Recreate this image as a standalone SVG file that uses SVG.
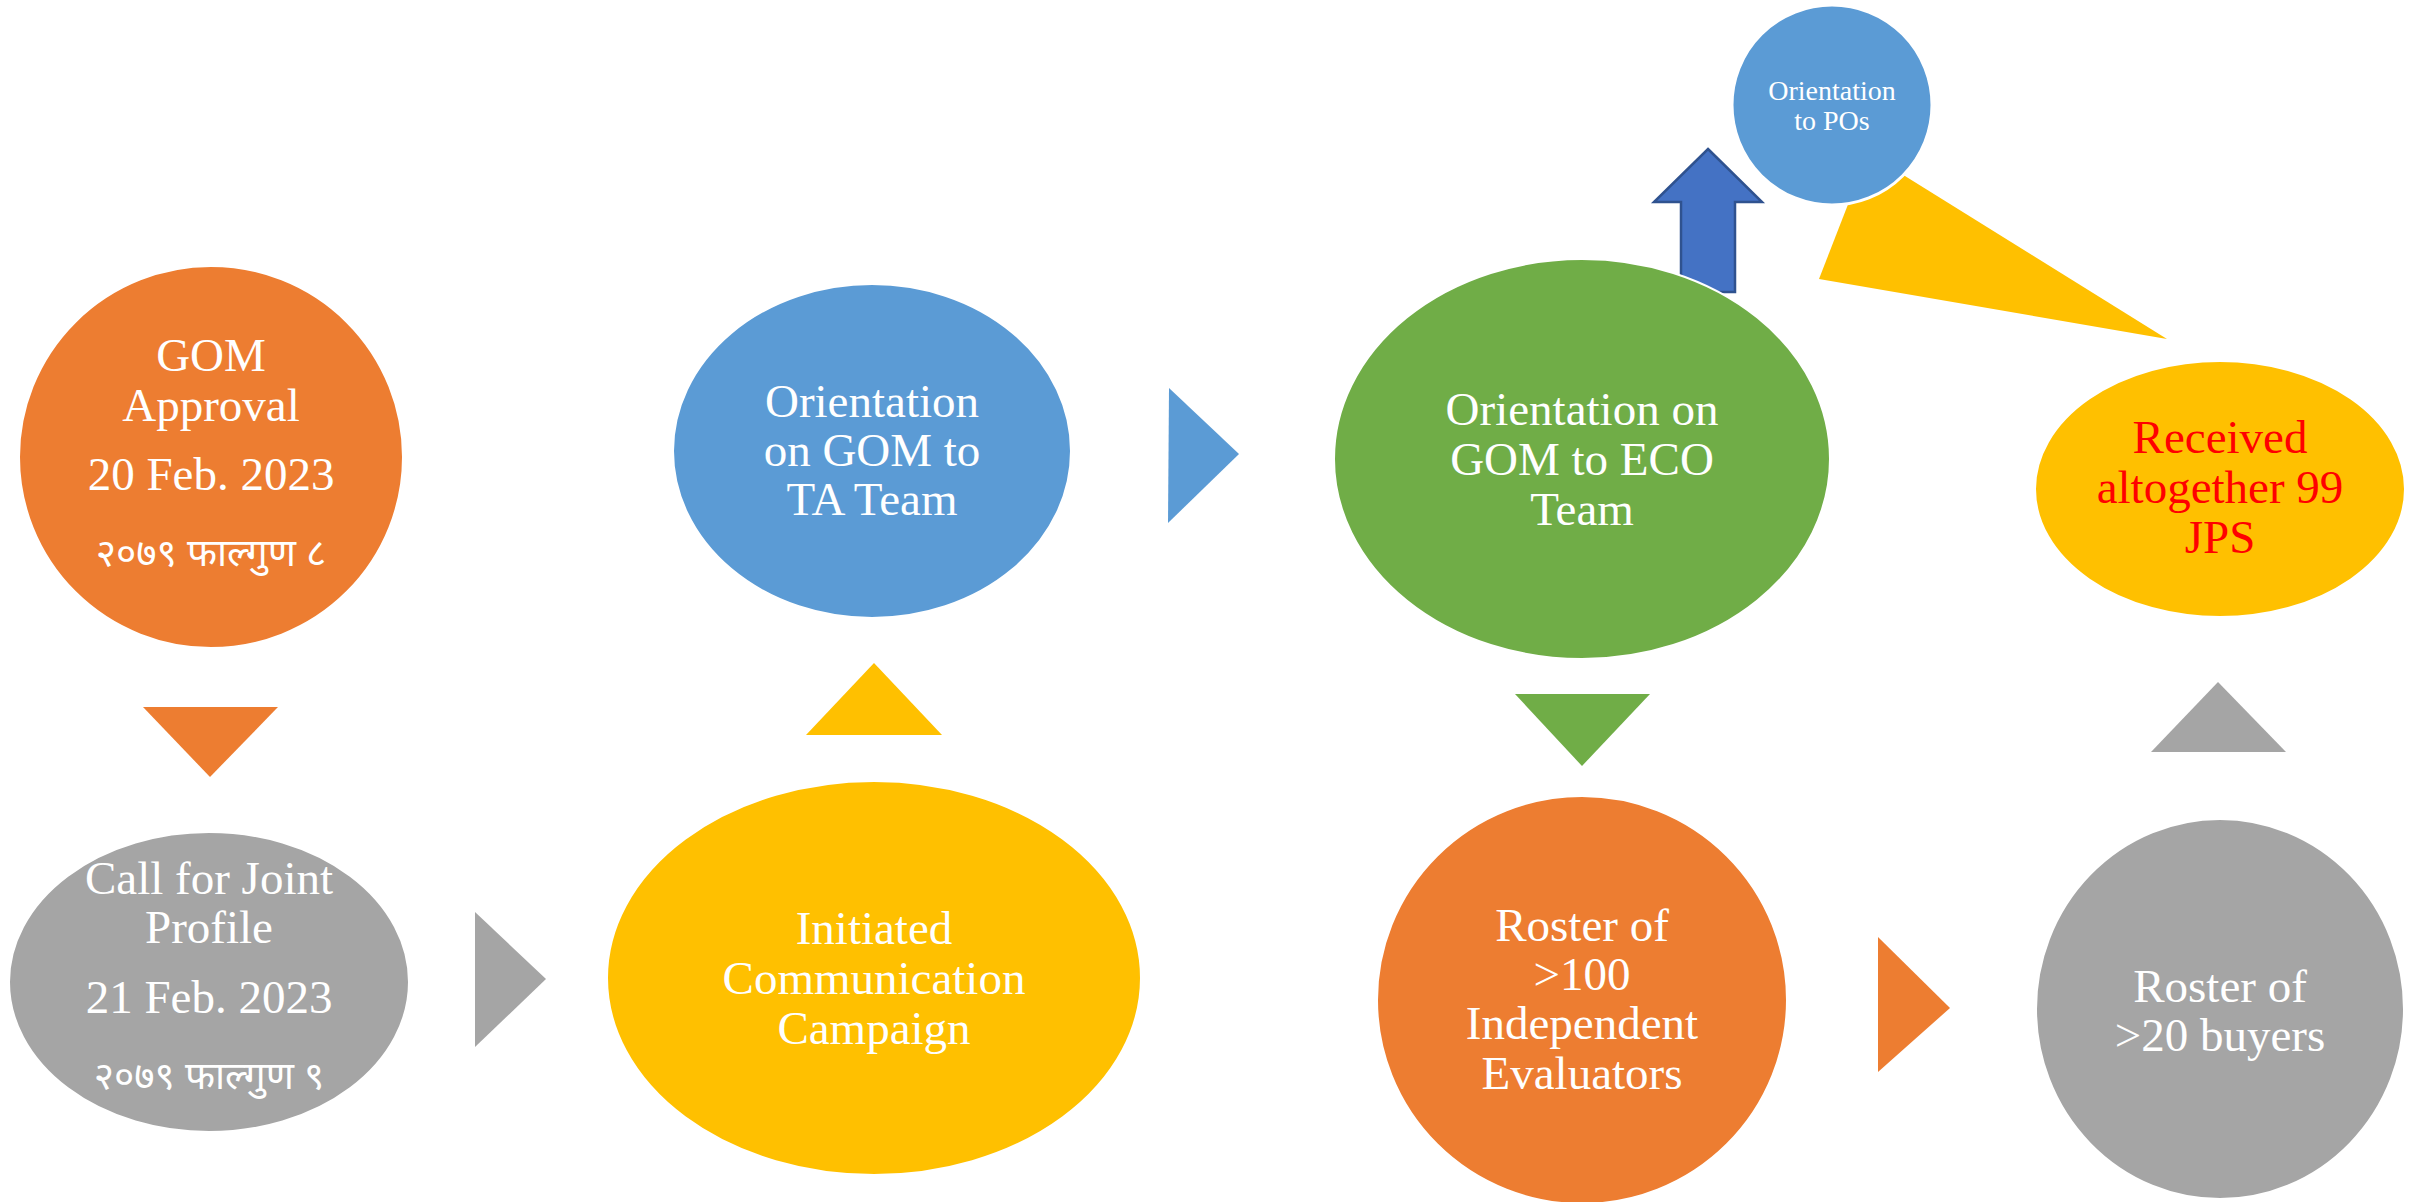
<svg xmlns="http://www.w3.org/2000/svg" width="2432" height="1202" viewBox="0 0 2432 1202">
<style>
.t{font-family:"Liberation Serif","Times New Roman",serif;font-size:47px;fill:#FFFFFF;text-anchor:middle}
.dv{font-family:"Noto Sans Devanagari","Noto Serif Devanagari","Lohit Devanagari","FreeSerif","Liberation Serif",serif;font-size:39px;fill:#FFFFFF;text-anchor:middle}
.sm{font-size:28px}
.red{fill:#FF0000}
.n{stroke:#FFFFFF;stroke-width:2}
.or{fill:#ED7D31}.gr{fill:#A5A5A5}.ye{fill:#FFC000}.bl{fill:#5B9BD5}.gn{fill:#70AD47}
</style>
<rect width="2432" height="1202" fill="#FFFFFF"/>
<g id="connectors">
<polygon class="or" points="143,707 278,707 210,777"/>
<polygon class="gr" points="475,912 546,979 475,1047"/>
<polygon class="ye" points="806,735 942,735 874,663"/>
<polygon class="bl" points="1169,388 1239,454 1168,523"/>
<polygon class="gn" points="1515,694 1650,694 1582,766"/>
<polygon class="or" points="1878,937 1950,1008 1878,1072"/>
<polygon class="gr" points="2151,752 2218,682 2286,752"/>
<polygon class="ye" points="1819,279 1868,153 2167,339"/>
<polygon points="1708,149 1762,202 1735,202 1735,292 1681,292 1681,202 1654,202" fill="#4472C4" stroke="#2F528F" stroke-width="2.5"/>
</g>
<g id="node-gom">
<ellipse class="n or" cx="211" cy="457" rx="192" ry="191"/>
<text class="t" x="211" y="371">GOM</text>
<text class="t" x="211" y="421">Approval</text>
<text class="t" x="211" y="490">20 Feb. 2023</text>
<text class="dv" x="211" y="566">२०७९ फाल्गुण ८</text>
</g>
<g id="node-call">
<ellipse class="n gr" cx="209" cy="982" rx="200" ry="150"/>
<text class="t" x="209" y="894">Call for Joint</text>
<text class="t" x="209" y="943">Profile</text>
<text class="t" x="209" y="1013">21 Feb. 2023</text>
<text class="dv" x="209" y="1089">२०७९ फाल्गुण ९</text>
</g>
<g id="node-campaign">
<ellipse class="n ye" cx="874" cy="978" rx="267" ry="197"/>
<text class="t" x="874" y="944">Initiated</text>
<text class="t" x="874" y="994">Communication</text>
<text class="t" x="874" y="1044">Campaign</text>
</g>
<g id="node-ta">
<ellipse class="n bl" cx="872" cy="451" rx="199" ry="167"/>
<text class="t" x="872" y="417">Orientation</text>
<text class="t" x="872" y="466">on GOM to</text>
<text class="t" x="872" y="515">TA Team</text>
</g>
<g id="node-eco">
<ellipse class="n gn" cx="1582" cy="459" rx="248" ry="200"/>
<text class="t" x="1582" y="425">Orientation on</text>
<text class="t" x="1582" y="475">GOM to ECO</text>
<text class="t" x="1582" y="525">Team</text>
</g>
<g id="node-pos">
<circle cx="1832" cy="105" r="100" fill="#5B9BD5" stroke="#FFFFFF" stroke-width="3"/>
<text class="t sm" x="1832" y="100">Orientation</text>
<text class="t sm" x="1832" y="130">to POs</text>
</g>
<g id="node-evaluators">
<ellipse class="n or" cx="1582" cy="1000" rx="205" ry="204"/>
<text class="t" x="1582" y="941">Roster of</text>
<text class="t" x="1582" y="990">&gt;100</text>
<text class="t" x="1582" y="1039">Independent</text>
<text class="t" x="1582" y="1089">Evaluators</text>
</g>
<g id="node-buyers">
<ellipse class="n gr" cx="2220" cy="1009" rx="184" ry="190"/>
<text class="t" x="2220" y="1002">Roster of</text>
<text class="t" x="2220" y="1051">&gt;20 buyers</text>
</g>
<g id="node-jps">
<ellipse class="n ye" cx="2220" cy="489" rx="185" ry="128"/>
<text class="t red" x="2220" y="453">Received</text>
<text class="t red" x="2220" y="503">altogether 99</text>
<text class="t red" x="2220" y="553">JPS</text>
</g>
</svg>
